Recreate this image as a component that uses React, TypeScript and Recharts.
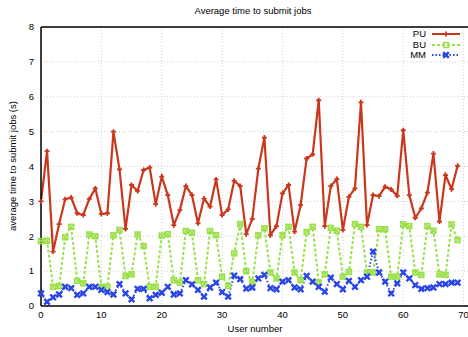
import React from 'react';
import { LineChart, Line, XAxis, YAxis, CartesianGrid, ReferenceLine } from 'recharts';

const userNumbers: number[] = Array.from({ length: 70 }, (_, i) => i);

const puTimes: number[] = [
  3.0, 4.44, 1.56, 2.35, 3.06, 3.11, 2.66, 2.61, 3.07, 3.37,
  2.64, 2.66, 5.0, 3.92, 2.21, 3.47, 3.3, 3.9, 3.97, 2.92,
  3.71, 3.18, 2.32, 2.75, 3.44, 3.18, 2.37, 3.08, 2.85, 3.63,
  2.61, 2.77, 3.59, 3.44, 2.06, 2.5, 3.94, 4.83, 2.03, 2.29,
  3.23, 3.47, 2.13, 2.89, 4.23, 4.35, 5.9, 2.29, 3.44, 3.64,
  2.18, 3.13, 3.37, 5.84, 2.32, 3.18, 3.15, 3.42, 3.34, 3.16,
  5.04, 3.18, 2.53, 2.8, 3.25, 4.37, 2.42, 3.75, 3.35, 4.02,
];

const buTimes: number[] = [
  1.86, 1.87, 0.55, 0.57, 1.97, 2.27, 0.72, 0.65, 2.05, 2.0,
  0.55, 0.55, 2.03, 2.18, 0.86, 0.91, 2.05, 1.72, 0.55, 0.55,
  2.02, 2.06, 0.74, 0.67, 2.15, 2.1, 0.74, 0.63, 2.15, 2.03,
  0.84, 0.58, 1.51, 2.35, 1.0, 0.68, 2.03, 2.23, 0.96, 0.79,
  2.03, 2.27, 0.96, 0.74, 2.12, 2.27, 0.67, 0.91, 2.24, 2.16,
  0.84, 0.98, 2.35, 2.27, 0.96, 0.96, 2.2, 2.2, 0.84, 0.84,
  2.34, 2.29, 0.96, 0.89, 2.29, 2.16, 0.91, 0.89, 2.34, 1.89,
];

const mmTimes: number[] = [
  0.36, 0.12, 0.25, 0.33, 0.55, 0.51, 0.32, 0.36, 0.55, 0.55,
  0.46, 0.4, 0.33, 0.63, 0.36, 0.19, 0.49, 0.49, 0.22, 0.32,
  0.38, 0.55, 0.33, 0.36, 0.74, 0.62, 0.46, 0.27, 0.53, 0.67,
  0.4, 0.27, 0.87, 0.77, 0.5, 0.53, 0.79, 0.89, 0.51, 0.48,
  0.7, 0.74, 0.53, 0.48, 0.86, 0.7, 0.55, 0.41, 0.81, 0.63,
  0.48, 0.72, 0.55, 0.74, 0.84, 1.56, 0.96, 0.7, 0.36, 0.65,
  0.96, 0.79, 0.6, 0.49, 0.51, 0.53, 0.63, 0.63, 0.67, 0.67,
];

const xTicks: number[] = [0, 10, 20, 30, 40, 50, 60, 70, 80];
const yTicks: number[] = [0, 1, 2, 3, 4, 5, 6, 7, 8];

const seriesNames = ['PU', 'BU', 'MM'];
const PU_COLOR = '#c9381c';
const BU_COLOR = '#9be04a';
const MM_COLOR = '#2a46e6';

const data = userNumbers.map((u, i) => ({
  user: u,
  PU: puTimes[i],
  BU: buTimes[i],
  MM: mmTimes[i],
}));

const FONT = '"Liberation Sans", Arial, Helvetica, sans-serif';

const PuDot = (props: any) => {
  const { cx, cy, index } = props;
  if (cx == null || cy == null) return null;
  return (
    <g key={`pu-${index}`}>
      <path d={`M${cx - 2.5},${cy} L${cx + 2.5},${cy} M${cx},${cy - 2.5} L${cx},${cy + 2.5}`} stroke={PU_COLOR} strokeWidth={1.8} />
    </g>
  );
};

const BuDot = (props: any) => {
  const { cx, cy, index } = props;
  if (cx == null || cy == null) return null;
  return (
    <g key={`bu-${index}`}>
      <rect x={cx - 2.5} y={cy - 2.5} width={5} height={5} fill="none" stroke={BU_COLOR} strokeWidth={1.5} />
      <path d={`M${cx - 2.5},${cy - 2.5} L${cx + 2.5},${cy + 2.5} M${cx - 2.5},${cy + 2.5} L${cx + 2.5},${cy - 2.5}`} stroke={BU_COLOR} strokeWidth={1.2} />
    </g>
  );
};

const MmDot = (props: any) => {
  const { cx, cy, index } = props;
  if (cx == null || cy == null) return null;
  return (
    <g key={`mm-${index}`}>
      <path d={`M${cx - 2.8},${cy - 2.8} L${cx + 2.8},${cy + 2.8} M${cx - 2.8},${cy + 2.8} L${cx + 2.8},${cy - 2.8}`} stroke={MM_COLOR} strokeWidth={2.4} />
      <rect x={cx - 1.6} y={cy - 1.6} width={3.2} height={3.2} fill={MM_COLOR} />
    </g>
  );
};

const legendItems = [
  { name: seriesNames[0], color: PU_COLOR, dash: undefined as string | undefined, kind: 'pu' },
  { name: seriesNames[1], color: BU_COLOR, dash: '3 2', kind: 'bu' },
  { name: seriesNames[2], color: MM_COLOR, dash: '1.5 2', kind: 'mm' },
];

export default function App() {
  return (
    <div style={{ position: 'absolute', left: 0, top: 0, width: 468, height: 337, overflow: 'hidden', background: '#fff', fontFamily: FONT }}>
      <LineChart
        width={530}
        height={337}
        data={data}
        margin={{ top: 27, right: 6, bottom: 0, left: 0 }}
      >
        <CartesianGrid stroke="#cfcfcf" strokeDasharray="1 2" />
        <XAxis
          dataKey="user"
          type="number"
          domain={[0, 80]}
          ticks={xTicks}
          interval={0}
          height={31}
          tickSize={0}
          tickMargin={5}
          axisLine={{ stroke: '#000', strokeWidth: 1.5 }}
          tick={{ fill: '#000', fontSize: 9.5, fontFamily: FONT }}
        />
        <YAxis
          type="number"
          domain={[0, 8]}
          ticks={yTicks}
          interval={0}
          width={41}
          tickSize={0}
          tickMargin={7}
          axisLine={{ stroke: '#000', strokeWidth: 1.5 }}
          tick={{ fill: '#000', fontSize: 9.5, fontFamily: FONT }}
        />
        <ReferenceLine y={8} stroke="#000" strokeWidth={1.5} />
        <Line
          type="linear"
          dataKey="BU"
          stroke={BU_COLOR}
          strokeWidth={2}
          strokeDasharray="3 2"
          dot={BuDot}
          activeDot={false}
          isAnimationActive={false}
        />
        <Line
          type="linear"
          dataKey="MM"
          stroke={MM_COLOR}
          strokeWidth={2}
          strokeDasharray="1.5 2"
          dot={MmDot}
          activeDot={false}
          isAnimationActive={false}
        />
        <Line
          type="linear"
          dataKey="PU"
          stroke={PU_COLOR}
          strokeWidth={2.2}
          dot={PuDot}
          activeDot={false}
          isAnimationActive={false}
        />
      </LineChart>

      <div style={{ position: 'absolute', left: 0, width: 506, top: 5, textAlign: 'center', fontSize: 9.5, color: '#000' }}>
        Average time to submit jobs
      </div>
      <div style={{ position: 'absolute', left: 41, width: 428, top: 323, textAlign: 'center', fontSize: 9.5, color: '#000' }}>
        User number
      </div>
      <div
        style={{
          position: 'absolute',
          left: 12,
          top: 166,
          transform: 'translate(-50%, -50%) rotate(-90deg)',
          whiteSpace: 'nowrap',
          fontSize: 9.5,
          color: '#000',
        }}
      >
        average time to submit jobs (s)
      </div>

      <div style={{ position: 'absolute', left: 388, top: 29, width: 72 }}>
        {legendItems.map((it) => (
          <div key={it.name} style={{ display: 'flex', alignItems: 'center', height: 10.5, justifyContent: 'flex-end' }}>
            <span style={{ fontSize: 9.5, lineHeight: '10.5px', color: '#000', marginRight: 6 }}>{it.name}</span>
            <svg width={28} height={8}>
              <line x1={0} y1={4} x2={28} y2={4} stroke={it.color} strokeWidth={2} strokeDasharray={it.dash} />
              {it.kind === 'pu' && (
                <path d="M11.5,4 L16.5,4 M14,1.5 L14,6.5" stroke={it.color} strokeWidth={1.8} />
              )}
              {it.kind === 'bu' && (
                <rect x={11.5} y={1.5} width={5} height={5} fill="none" stroke={it.color} strokeWidth={1.5} />
              )}
              {it.kind === 'mm' && (
                <path d="M11.2,1.2 L16.8,6.8 M11.2,6.8 L16.8,1.2" stroke={it.color} strokeWidth={2.4} />
              )}
            </svg>
          </div>
        ))}
      </div>
    </div>
  );
}
